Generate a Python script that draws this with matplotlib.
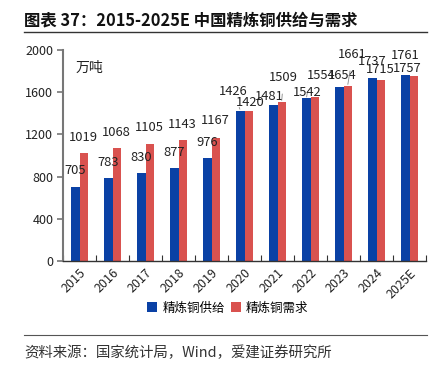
import matplotlib
matplotlib.use("Agg")
import matplotlib.pyplot as plt
import numpy as np

plt.rcParams['font.family'] = ['Noto Sans CJK SC', 'DejaVu Sans']

years = ['2015', '2016', '2017', '2018', '2019', '2020', '2021', '2022', '2023', '2024', '2025E']
supply = [705, 783, 830, 877, 976, 1426, 1481, 1542, 1654, 1737, 1761]
demand = [1019, 1068, 1105, 1143, 1167, 1420, 1509, 1554, 1661, 1715, 1757]

# label offsets in pixels (dx, dy) relative to bar top, and whether a leader line is drawn
sup_off = [(0, 16), (0, 16), (0, 16), (0, 16), (0, 16), (-7, 19), (-4, 8), (1, 6), (3, 11), (0, 16), (0, 20)]
dem_off = [(0, 16), (0, 16), (0, 17), (0, 16), (0, 17), (2, 9), (2, 24), (7, 22), (5, 31), (0, 11), (-6, 7)]
sup_line = [False] * 5 + [True, False, True, False, False, False]
dem_line = [False] * 6 + [True, False, True, False, False]

blue = '#0A41A5'
red = '#D9524F'
W, H = 444, 371

fig = plt.figure(figsize=(W / 100, H / 100), dpi=100)
ax = fig.add_axes([63 / W, 1 - 261 / H, (426 - 63) / W, (261 - 50) / H])

x = np.arange(len(years))
bw = 0.25
b1 = ax.bar(x - bw / 2, supply, bw, color=blue, label='精炼铜供给')
b2 = ax.bar(x + bw / 2, demand, bw, color=red, label='精炼铜需求')

def put_labels(xs, vals, offs, lines):
    for xi, v, (dx, dy), ln in zip(xs, vals, offs, lines):
        kw = {}
        if ln:
            kw['arrowprops'] = dict(arrowstyle='-', color='#888888', lw=0.6, shrinkA=5, shrinkB=1)
        ax.annotate(str(v), (xi, v), xytext=(dx, dy), textcoords='offset pixels',
                    ha='center', va='center', fontsize=9.3, color='#222222', **kw)

put_labels(x - bw / 2, supply, sup_off, sup_line)
put_labels(x + bw / 2, demand, dem_off, dem_line)

ax.set_xlim(-0.5, len(years) - 0.5)
ax.set_ylim(0, 2000)
ax.set_yticks([0, 400, 800, 1200, 1600, 2000])
ax.set_xticks(x)
ax.set_xticklabels(years, rotation=45, ha='right', rotation_mode='anchor')
ax.set_xticks(np.arange(-0.5, len(years)), minor=True)
ax.tick_params(axis='x', which='major', length=0, labelsize=9, labelcolor='#222222', pad=4)
ax.tick_params(axis='x', which='minor', direction='in', length=4, color='#333333', width=0.8)
ax.tick_params(axis='y', length=4, color='#777777', width=1.2, labelsize=9, labelcolor='#222222', pad=3)

for s in ['top', 'right']:
    ax.spines[s].set_visible(False)
ax.spines['left'].set_color('#777777')
ax.spines['left'].set_linewidth(1.5)
ax.spines['bottom'].set_color('#333333')
ax.spines['bottom'].set_linewidth(1.0)

ax.text(76 / W, 1 - 68 / H, '万吨', transform=fig.transFigure, fontsize=10, color='#222222',
        ha='left', va='center')

fig.legend(handles=[b1, b2], loc='center', bbox_to_anchor=(228 / W, 1 - 308 / H), ncol=2,
           frameon=False, fontsize=9, handlelength=0.8, handleheight=0.8, handletextpad=0.4,
           columnspacing=0.5)

fig.text(24 / W, 1 - 20 / H, '图表 37：2015-2025E 中国精炼铜供给与需求', fontsize=11.8,
         fontweight='bold', ha='left', va='center', color='#111111')
fig.add_artist(plt.Line2D([24 / W, 427 / W], [1 - 32 / H, 1 - 32 / H], color='#333333', lw=1))
fig.add_artist(plt.Line2D([24 / W, 427 / W], [1 - 335 / H, 1 - 335 / H], color='#555555', lw=0.8))
fig.text(24 / W, 1 - 353 / H, '资料来源：国家统计局，Wind，爱建证券研究所', fontsize=10.4,
         ha='left', va='center', color='#333333')

fig.savefig('out.png', dpi=100)
